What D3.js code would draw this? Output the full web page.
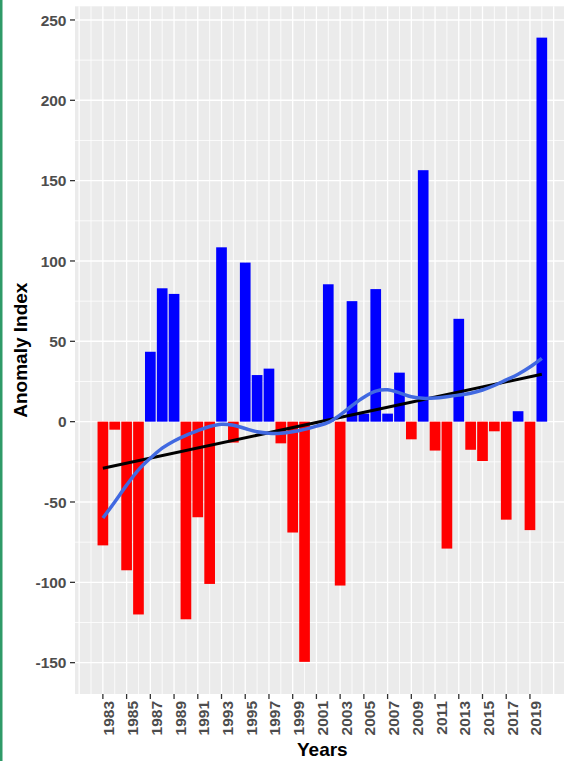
<!DOCTYPE html>
<html>
<head>
<meta charset="utf-8">
<script src="https://cdn.jsdelivr.net/npm/d3@7"></script>
<style>
  html, body { margin: 0; padding: 0; background: #ffffff; }
  svg { display: block; font-family: "Liberation Sans", Arial, sans-serif; }
</style>
</head>
<body>
<svg id="chart" width="564" height="761"></svg>
<script>
// ---- data ----
const years = d3.range(1983, 2021);
const anomaly = [
  -77, -5, -92.5, -120, 43.5, 83, 79.5, -123, -59.5, -101,
  108.5, -13, 99, 29, 33, -13.5, -69, -149.5, 0, 85.5,
  -102, 75, 5, 82.5, 5, 30.5, -11, 156.5, -18, -79,
  64, -17.5, -24.5, -6, -61, 6.5, -67.5, 239
];
// blue smooth curve, read at each year
const smoothValues = [
  -60, -50, -39.5, -30, -22.8, -16.5, -12, -8.5, -5.6, -3,
  -1.6, -2.2, -4.3, -6.3, -7.2, -7.2, -6.3, -4.8, -2.8, -0.5,
  4.2, 10, 15.2, 19, 19.8, 17.9, 15.5, 14.5, 14.7, 15.5,
  16.5, 17.7, 19.7, 22.5, 26, 29.5, 34, 39.4
];
// black linear trend, endpoints read at 1983 and 2020
const trendYears = [1983, 2020];
const trendValues = [-29, 29.5];
const xTicks = d3.range(1983, 2020, 2);
const yTicks = [-150, -100, -50, 0, 50, 100, 150, 200, 250];
const yMinor = [-125, -75, -25, 25, 75, 125, 175, 225];
const xTitle = "Years";
const yTitle = "Anomaly Index";

// ---- layout ----
const svg = d3.select("#chart");
const panel = { left: 75, right: 569.7, top: 6.3, bottom: 694 };

const x = d3.scaleLinear().domain([1980.65, 2022.35]).range([panel.left, panel.right]);
const y = d3.scaleLinear().domain([-169.5, 258.5]).range([panel.bottom, panel.top]);

// left green stripe (border of the source figure)
svg.append("rect").attr("x", 0).attr("y", 0).attr("width", 2.5).attr("height", 761).attr("fill", "#2f9a68");

// panel background
svg.append("rect")
  .attr("x", panel.left).attr("y", panel.top)
  .attr("width", panel.right - panel.left).attr("height", panel.bottom - panel.top)
  .attr("fill", "#ebebeb");

const grid = svg.append("g");
grid.selectAll(".hmin").data(yMinor).join("line")
  .attr("x1", panel.left).attr("x2", panel.right)
  .attr("y1", d => y(d)).attr("y2", d => y(d))
  .attr("stroke", "#ffffff").attr("stroke-width", 0.8);
grid.selectAll(".hmaj").data(yTicks).join("line")
  .attr("x1", panel.left).attr("x2", panel.right)
  .attr("y1", d => y(d)).attr("y2", d => y(d))
  .attr("stroke", "#ffffff").attr("stroke-width", 1.4);
const vYears = d3.range(1981, 2022);
grid.selectAll(".v").data(vYears).join("line")
  .attr("x1", d => x(d)).attr("x2", d => x(d))
  .attr("y1", panel.top).attr("y2", panel.bottom)
  .attr("stroke", "#ffffff")
  .attr("stroke-width", d => (d % 2 === 1 ? 1.3 : 0.8));

// bars
const barW = x(1983.45) - x(1982.55);
svg.append("g").selectAll("rect").data(years.map((yr, i) => ({ yr, v: anomaly[i] }))).join("rect")
  .attr("x", d => x(d.yr) - barW / 2)
  .attr("width", barW)
  .attr("y", d => y(Math.max(0, d.v)))
  .attr("height", d => Math.abs(y(d.v) - y(0)))
  .attr("fill", d => (d.v >= 0 ? "#0000ff" : "#ff0000"));

// trend line
svg.append("path")
  .datum(trendYears.map((yr, i) => [yr, trendValues[i]]))
  .attr("d", d3.line().x(d => x(d[0])).y(d => y(d[1])))
  .attr("fill", "none").attr("stroke", "#000000").attr("stroke-width", 3);

// smooth curve
svg.append("path")
  .datum(years.map((yr, i) => [yr, smoothValues[i]]))
  .attr("d", d3.line().curve(d3.curveCatmullRom).x(d => x(d[0])).y(d => y(d[1])))
  .attr("fill", "none").attr("stroke", "#4169e1").attr("stroke-width", 3.5)
  .attr("stroke-linecap", "butt");

// y axis
const yAxis = svg.append("g");
yAxis.selectAll("line").data(yTicks).join("line")
  .attr("x1", panel.left - 5).attr("x2", panel.left)
  .attr("y1", d => y(d)).attr("y2", d => y(d))
  .attr("stroke", "#333333").attr("stroke-width", 1.3);
yAxis.selectAll("text").data(yTicks).join("text")
  .attr("x", panel.left - 8.5).attr("y", d => y(d)).attr("dy", "0.36em")
  .attr("text-anchor", "end")
  .attr("font-size", 15.5).attr("font-weight", "bold").attr("fill", "#4d4d4d")
  .text(d => String(d));

// x axis
const xAxis = svg.append("g");
xAxis.selectAll("line").data(xTicks).join("line")
  .attr("x1", d => x(d)).attr("x2", d => x(d))
  .attr("y1", panel.bottom).attr("y2", panel.bottom + 5)
  .attr("stroke", "#333333").attr("stroke-width", 1.3);
xAxis.selectAll("text").data(xTicks).join("text")
  .attr("transform", d => `translate(${x(d)},${panel.bottom + 7}) rotate(-90)`)
  .attr("dy", "0.74em")
  .attr("text-anchor", "end")
  .attr("font-size", 15.5).attr("font-weight", "bold").attr("fill", "#4d4d4d")
  .text(d => String(d));

// titles
svg.append("text")
  .attr("x", (panel.left + panel.right) / 2).attr("y", 756)
  .attr("text-anchor", "middle")
  .attr("font-size", 19).attr("font-weight", "bold").attr("fill", "#000000")
  .text(xTitle);
svg.append("text")
  .attr("transform", `translate(27,${(panel.top + panel.bottom) / 2}) rotate(-90)`)
  .attr("text-anchor", "middle")
  .attr("font-size", 19).attr("font-weight", "bold").attr("fill", "#000000")
  .text(yTitle);
</script>
</body>
</html>
